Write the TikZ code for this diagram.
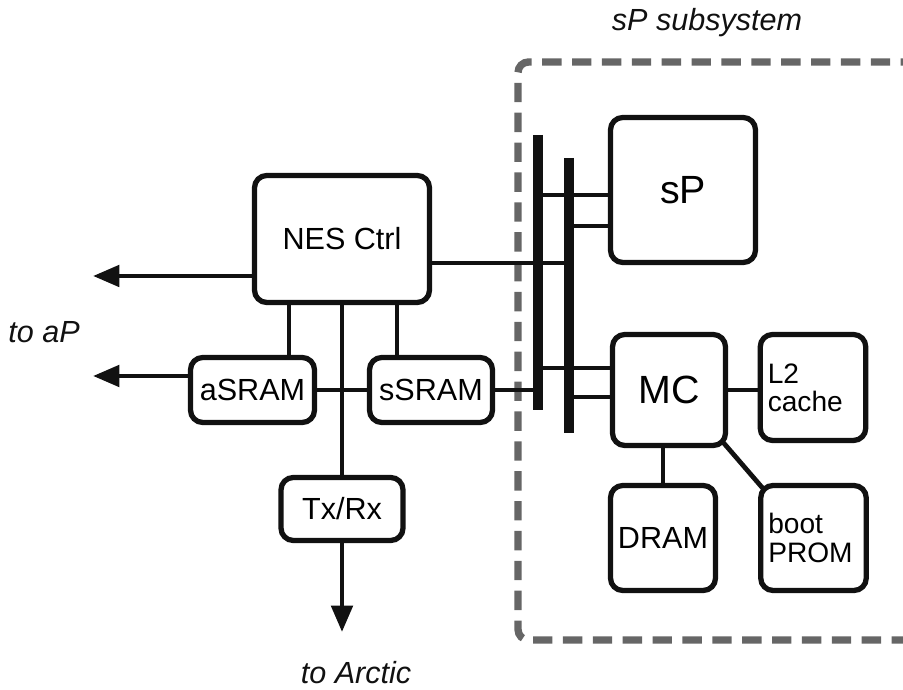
\documentclass[tikz,border=0pt]{standalone}
\usepackage{fontspec}
\setmainfont{Liberation Sans}
\usepackage{tikz}
\usetikzlibrary{arrows.meta}
\definecolor{ink}{HTML}{111111}
\definecolor{dashgray}{HTML}{666666}
\tikzset{
  blk/.style={draw=ink,line width=3pt,rounded corners=7pt,inner sep=0pt,
              align=center,font=\fontsize{17.4}{19}\selectfont},
  bigblk/.style={blk,font=\fontsize{22.4}{24}\selectfont},
  memblk/.style={blk,align=left,inner xsep=0.15cm,text width=1.81cm,
                 font=\fontsize{16}{16}\selectfont},
  wire/.style={draw=ink,line width=2.7pt},
  busbar/.style={draw=ink,line width=5.2pt},
  outarr/.style={-{Triangle[length=15pt,width=12pt]},line width=2.7pt,
                 draw=ink},
  dashbox/.style={draw=dashgray,line width=4.2pt,dash pattern=on 11pt off 6pt,
                  rounded corners=6pt},
  tag/.style={font=\fontsize{17.4}{19}\selectfont\itshape,text=ink,
              inner sep=0pt}
}

\begin{document}
\begin{tikzpicture}[x=1cm,y=1cm]
    \useasboundingbox (0,0) rectangle (18.06,13.8);

    % sP subsystem outline
    \draw[dashbox] (18.4,12.56) -- (10.36,12.56) -- (10.36,1.00) -- (18.4,1.00);
    \node[tag] (subsys) at (14.14,13.34) {sP subsystem};

    % network end
    \node[blk,minimum width=3.5cm,minimum height=2.54cm] (nes) at (6.84,9.02) {NES Ctrl};
    \node[blk,minimum width=2.48cm,minimum height=1.30cm] (asram) at (5.05,6.00) {aSRAM};
    \node[blk,minimum width=2.46cm,minimum height=1.30cm] (ssram) at (8.62,6.00) {sSRAM};
    \node[blk,minimum width=2.44cm,minimum height=1.26cm] (txrx) at (6.84,3.62) {Tx/Rx};

    % sP side
    \node[bigblk,minimum width=2.9cm,minimum height=2.9cm] (sp) at (13.66,10.00) {sP};
    \node[bigblk,minimum width=2.26cm,minimum height=2.22cm] (mc) at (13.38,6.00) {MC};
    \node[memblk,minimum height=2.12cm] (l2) at (16.26,6.05) {L2\\cache};
    \node[blk,minimum width=2.1cm,minimum height=2.1cm] (dram) at (13.26,3.04) {DRAM};
    \node[memblk,minimum height=2.1cm] (prom) at (16.27,3.04) {boot\\PROM};

    % bus bars
    \coordinate (busAtop) at (10.76,11.10);
    \coordinate (busAbot) at (10.76,5.60);
    \coordinate (busBtop) at (11.38,10.64);
    \coordinate (busBbot) at (11.38,5.14);
    \draw[busbar] (busAtop) -- (busAbot);
    \draw[busbar] (busBtop) -- (busBbot);

    \coordinate (nesTap) at ([yshift=-0.48cm]nes.east);
    \draw[wire] (nesTap) -- (nesTap -| busBtop);
    \coordinate (spTapA) at ([yshift=-0.10cm]sp.west);
    \coordinate (spTapB) at ([yshift=-0.72cm]sp.west);
    \draw[wire] (spTapA) -- (spTapA -| busAtop);
    \draw[wire] (spTapB) -- (spTapB -| busBtop);
    \coordinate (mcTapA) at ([yshift=0.44cm]mc.west);
    \coordinate (mcTapB) at ([yshift=-0.14cm]mc.west);
    \draw[wire] (mcTapA) -- (mcTapA -| busAtop);
    \draw[wire] (mcTapB) -- (mcTapB -| busBtop);
    \draw[wire] (ssram.east) -- (ssram.east -| busAtop);

    % NES links
    \coordinate (aTap) at ([xshift=0.73cm]asram.north);
    \coordinate (sTap) at ([xshift=-0.68cm]ssram.north);
    \draw[wire] (aTap) -- (aTap |- nes.south);
    \draw[wire] (sTap) -- (sTap |- nes.south);
    \draw[wire] (nes.south) -- (txrx.north);
    \draw[wire] (asram.east) -- (ssram.west);

    % outputs
    \coordinate (aPend) at (1.86,7.00);
    \coordinate (nesOut) at ([yshift=-0.74cm]nes.west);
    \draw[outarr] (nesOut) -- (nesOut -| aPend);
    \coordinate (asramOut) at ([yshift=0.28cm]asram.west);
    \draw[outarr] (asramOut) -- (asramOut -| aPend);
    \node[tag] (toap) at (0.88,7.16) {to aP};

    \coordinate (arcticEnd) at (6.84,1.16);
    \draw[outarr] (txrx.south) -- (arcticEnd);
    \node[tag] (toarctic) at (7.12,0.34) {to Arctic};

    % memory links
    \draw[wire] (mc.east) -- (mc.east -| l2.west);
    \draw[wire] (dram.north) -- (dram.north |- mc.south);
    \draw[wire,shorten <=-4pt,shorten >=-4pt] (mc.south east) -- (prom.north west);
\end{tikzpicture}
\end{document}
